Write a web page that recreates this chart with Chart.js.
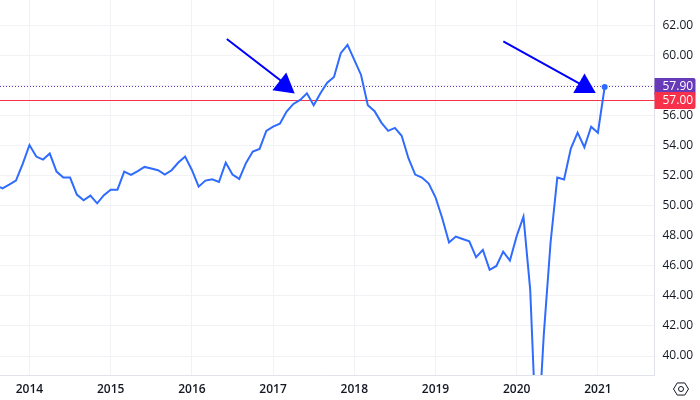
<!DOCTYPE html>
<html>
<head>
<meta charset="utf-8">
<style>
  html, body { margin: 0; padding: 0; background: #fff; }
  canvas { display: block; }
</style>
<script src="https://cdn.jsdelivr.net/npm/chart.js@4"></script>
</head>
<body>
<canvas id="myChart" width="700" height="400"></canvas>
<script>
// monthly readings, first one is Aug 2013
const startYear = 2013
const startMonth = 7
const values = [
  51.35, 51.16, 51.4, 51.67, 52.78,
  54.04, 53.27, 53.07, 53.47, 52.27, 51.87, 51.87, 50.74, 50.36, 50.67, 50.16, 50.7,
  51.07, 51.07, 52.27, 52.05, 52.3, 52.58, 52.47, 52.36, 52.07, 52.36, 52.87, 53.27,
  52.38, 51.27, 51.67, 51.76, 51.58, 52.87, 52.07, 51.78, 52.85, 53.6, 53.78, 54.98,
  55.26, 55.46, 56.26, 56.77, 57.04, 57.48, 56.68, 57.48, 58.19, 58.57, 60.15, 60.7,
  59.7, 58.7, 56.68, 56.29, 55.53, 54.98, 55.18, 54.65, 53.16, 52.07, 51.87, 51.47,
  50.56, 49.17, 47.55, 47.95, 47.79, 47.63, 46.57, 47.06, 45.73, 45.99, 46.95, 46.35,
  47.99, 49.27, 44.38, 33.4, 41.4, 47.52, 51.87, 51.75, 53.8, 54.86, 53.89, 55.26,
  54.86, 57.9
]
const tickValues = [40, 42, 44, 46, 48, 50, 52, 54, 56, 58, 60, 62]
const yearTicks = [2014, 2015, 2016, 2017, 2018, 2019, 2020, 2021]
const redLevel = 57
const lastLevel = 57.9
// hand drawn arrows, [years, value]
const arrowOne = [[2016.43, 61.09], [2017.085, 58.36], [2017.14, 58.0]]
const arrowTwo = [[2019.835, 60.94], [2020.758, 58.18], [2020.835, 57.94]]

const lineBlue = '#2f6bff'
const red = '#f7314a'
const purple = '#673ab7'
const gridColor = '#f0f2f5'
const axisColor = '#e0e3eb'
const textColor = '#131722'
const fontName = '"Open Sans", "Noto Sans", sans-serif'

function toYear(i) {
  return startYear + (startMonth + i) / 12
}

function noPadding(scale) {
  scale.paddingLeft = 0
  scale.paddingRight = 0
  scale.paddingTop = 0
  scale.paddingBottom = 0
}

// the two horizontal levels, kept on whole pixels so they stay crisp
const levels = {
  id: 'levels',
  beforeDatasetsDraw(chart) {
    const c = chart.ctx
    const y = chart.scales.y
    const area = chart.chartArea
    function level(v, color, dash) {
      const p = Math.floor(y.getPixelForValue(v)) + 0.5
      c.save()
      c.strokeStyle = color
      c.lineWidth = 1
      c.setLineDash(dash)
      c.beginPath()
      c.moveTo(area.left, p)
      c.lineTo(area.right, p)
      c.stroke()
      c.restore()
    }
    level(lastLevel, purple, [1, 2])
    level(redLevel, red, [])
  }
}

const badges = {
  id: 'badges',
  afterDraw(chart) {
    const c = chart.ctx
    const y = chart.scales.y
    const left = chart.chartArea.right
    function badge(v, color) {
      const p = Math.floor(y.getPixelForValue(v))
      c.fillStyle = color
      c.beginPath()
      c.roundRect(left, p - 8, 41, 17, [0, 2, 2, 0])
      c.fill()
      c.fillStyle = '#fff'
      c.font = '12px ' + fontName
      c.textAlign = 'left'
      c.textBaseline = 'middle'
      c.fillText(v.toFixed(2), left + 8, p + 1)
    }
    badge(lastLevel, purple)
    badge(redLevel, red)

    // settings hexagon in the corner
    c.strokeStyle = '#131722'
    c.lineWidth = 1
    c.beginPath()
    const cx = 681, cy = 389
    for (let k = 0; k < 6; k++) {
      const a = k * Math.PI / 3
      const px = cx + 7.5 * Math.cos(a)
      const py = cy + 7 * Math.sin(a)
      if (k == 0) c.moveTo(px, py)
      else c.lineTo(px, py)
    }
    c.closePath()
    c.stroke()
    c.beginPath()
    c.arc(cx, cy, 2.5, 0, Math.PI * 2)
    c.stroke()
  }
}

function arrowSet(points, rotation) {
  const last = points.length - 1
  return {
    data: points.map(p => ({ x: p[0], y: p[1] })),
    borderColor: '#0000ff',
    backgroundColor: '#0000ff',
    borderWidth: 2,
    pointStyle: 'triangle',
    pointRotation: rotation,
    pointRadius: points.map((p, i) => i == last ? 13 : 0),
    pointBorderWidth: 0,
    tension: 0
  }
}

const ctx = document.getElementById('myChart').getContext('2d')
new Chart(ctx, {
  type: 'line',
  data: {
    datasets: [
      {
        data: values.map((v, i) => ({ x: toYear(i), y: v })),
        borderColor: lineBlue,
        backgroundColor: lineBlue,
        borderWidth: 2,
        tension: 0,
        pointRadius: values.map((v, i) => i == values.length - 1 ? 3 : 0),
        pointBorderWidth: 0
      },
      arrowSet(arrowOne, 8),
      arrowSet(arrowTwo, 0)
    ]
  },
  plugins: [levels, badges],
  options: {
    responsive: false,
    animation: false,
    layout: { padding: 0, autoPadding: false },
    plugins: {
      legend: { display: false },
      tooltip: { enabled: false }
    },
    scales: {
      x: {
        type: 'linear',
        min: 2013.637,
        max: 2021.697,
        afterFit(scale) {
          scale.height = 25
          noPadding(scale)
        },
        afterBuildTicks(scale) {
          scale.ticks = yearTicks.map(v => ({ value: v }))
        },
        grid: { color: gridColor, drawTicks: false },
        border: { color: axisColor },
        ticks: {
          callback: v => String(v),
          maxRotation: 0,
          autoSkip: false,
          color: textColor,
          padding: 7,
          font: { family: fontName, size: 12, weight: '600' }
        }
      },
      y: {
        position: 'right',
        min: 38.737,
        max: 63.687,
        afterFit(scale) {
          scale.width = 45.5
          noPadding(scale)
        },
        afterBuildTicks(scale) {
          scale.ticks = tickValues.map(v => ({ value: v }))
        },
        grid: { color: gridColor, drawTicks: false },
        border: { color: axisColor },
        ticks: {
          callback: v => v.toFixed(2),
          color: textColor,
          padding: 8,
          font: { family: fontName, size: 12 }
        }
      }
    }
  }
})
</script>
</body>
</html>
